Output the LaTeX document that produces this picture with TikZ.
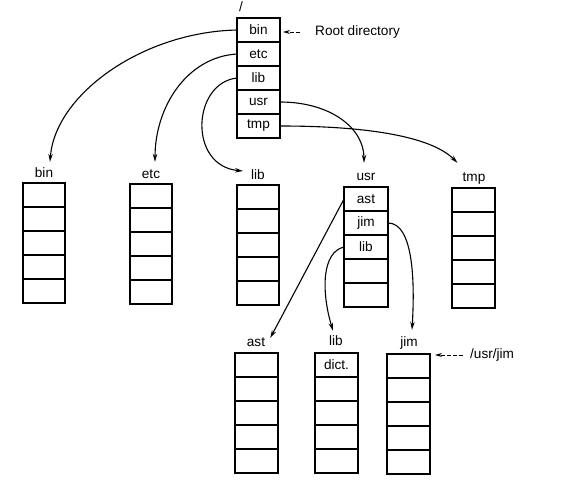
\documentclass[tikz,border=0pt]{standalone}
\usepackage{fontspec}
\setmainfont{Liberation Sans}
\usetikzlibrary{arrows.meta}
\newcommand{\dirbox}[5]{%
  \foreach \t [count=\i] in {#5} {
    \node[cell, minimum width=#4] (#1-\i) at (#2, {#3+(\i-1)*24}) {\t};
  }
}
\begin{document}
\begin{tikzpicture}[x=1pt,y=-1pt,
  cell/.style={draw, line width=1.4pt, minimum height=24pt, minimum width=42pt,
    inner sep=0pt, outer sep=0pt, anchor=north west, font=\fontsize{13.6}{15}\selectfont},
  lbl/.style={font=\fontsize{13.6}{15}\selectfont, inner sep=0pt, text height=9.5pt, text depth=2.5pt},
  link/.style={line width=1.1pt, -{Stealth[length=8pt,width=4.5pt]}},
  ptr/.style={line width=0.8pt, dash pattern=on 4pt off 2pt, -{Stealth[length=7pt,width=4pt]}}]
\useasboundingbox (0,0) rectangle (575,486);

% directory boxes
\dirbox{root}{237}{18}{43pt}{bin,etc,lib,usr,tmp}
\dirbox{bin}{23}{183}{42pt}{{},{},{},{},{}}
\dirbox{etc}{130}{184}{42pt}{{},{},{},{},{}}
\dirbox{lib}{237}{185}{42pt}{{},{},{},{},{}}
\dirbox{usr}{344}{187}{44pt}{ast,jim,lib,{},{}}
\dirbox{tmp}{452}{188}{43pt}{{},{},{},{},{}}
\dirbox{ast}{235}{353}{43pt}{{},{},{},{},{}}
\dirbox{ulib}{315}{353}{43pt}{dict.,{},{},{},{}}
\dirbox{jim}{387}{354}{43pt}{{},{},{},{},{}}

% labels
\node[lbl] (lroot) at (241,8) {/};
\node[lbl] (lbin) at (44,174) {bin};
\node[lbl] (letc) at (151,175) {etc};
\node[lbl] (llib) at (258,176) {lib};
\node[lbl] (lusr) at (366,177) {usr};
\node[lbl] (ltmp) at (474,178) {tmp};
\node[lbl] (last) at (256,343) {ast};
\node[lbl] (lulib) at (336,342) {lib};
\node[lbl] (ljim) at (409,343) {jim};
\node[lbl, anchor=west] (rootlbl) at (315,32) {Root directory};
\node[lbl, anchor=west] (usrjimlbl) at (470,355) {/usr/jim};

% pointers
\draw[ptr] ([xshift=-15pt]rootlbl.west) -- ([xshift=3pt]root-1.east |- rootlbl.west);
\draw[ptr] ([xshift=-7pt]usrjimlbl.west) -- ([xshift=5pt]jim-1.north east |- usrjimlbl.west);

% links
\draw[link] (root-1.west) .. controls +(-95,2) and +(5,-67) .. ([xshift=6pt,yshift=6pt]lbin.north);
\draw[link] (root-2.west) .. controls +(-50,3) and +(0,-55) .. ([xshift=4pt,yshift=7pt]letc.north);
\draw[link] (root-3.west) .. controls +(-45,5) and +(-55,-5) .. ([xshift=-8pt,yshift=5pt]llib.west);
\draw[link] (root-4.east) .. controls +(50,0) and +(0,-35) .. ([xshift=-2pt,yshift=8pt]lusr.north);
\draw[link] (root-5.east) .. controls +(80,0) and +(-28,-28) .. ([xshift=-5pt,yshift=9pt]ltmp.north west);
\draw[link] (usr-1.west) -- ([xshift=5pt,yshift=5pt]last.east);
\draw[link] (usr-3.west) .. controls +(-22,5) and +(-12,-40) .. ([xshift=-3pt,yshift=5pt]lulib.north);
\draw[link] (usr-2.east) .. controls +(25,0) and +(3,-50) .. ([xshift=3pt,yshift=7pt]ljim.north);
\end{tikzpicture}
\end{document}
